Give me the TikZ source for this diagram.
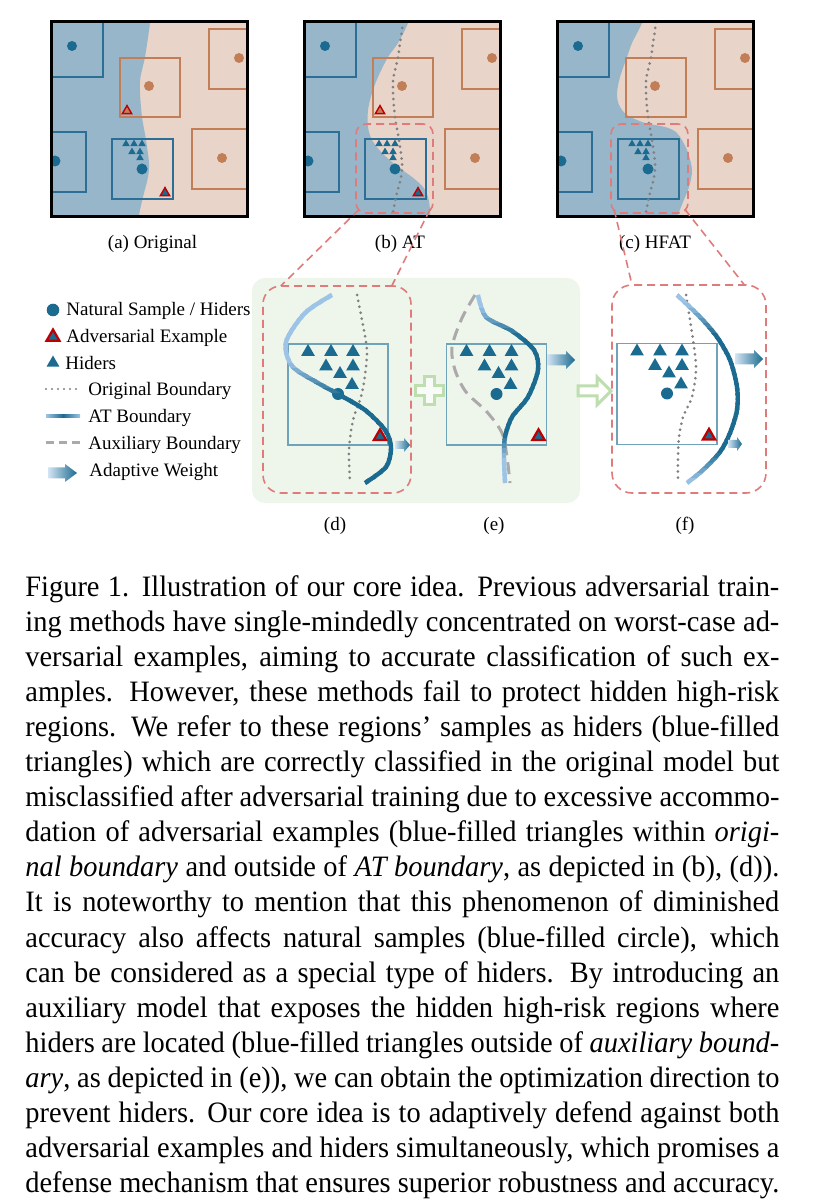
\documentclass[tikz,border=0pt]{standalone}
\usepackage{graphicx}
\usepackage{fontspec}
\setmainfont{Liberation Serif}
\usetikzlibrary{shapes.geometric,calc,positioning}
\definecolor{blueregion}{HTML}{98B6CA}
\definecolor{pinkregion}{HTML}{E8D4C8}
\definecolor{navy}{HTML}{1B6A90}
\definecolor{boxblue}{HTML}{2B6F96}
\definecolor{rust}{HTML}{C27F57}
\definecolor{advred}{HTML}{C00000}
\definecolor{zoomred}{HTML}{E07B7B}
\definecolor{skyline}{HTML}{9DC4E6}
\definecolor{cellline}{HTML}{6FA3BA}
\definecolor{stage}{HTML}{EEF5EA}
\definecolor{mint}{HTML}{BEDEAF}
\definecolor{origgray}{HTML}{808080}
\definecolor{auxgray}{HTML}{AAAAAA}
\tikzset{frame/.style={draw=black,line width=1.5pt},bluebox/.style={draw=boxblue,line width=1pt},rustbox/.style={draw=rust,line width=1pt},
hider/.style={regular polygon,regular polygon sides=3,fill=navy,inner sep=0pt,outer sep=0pt,minimum size=#1},hider/.default=8pt,
advtri/.style={regular polygon,regular polygon sides=3,fill=navy,draw=advred,line width=1.1pt,inner sep=0pt,minimum size=7.2pt},
origline/.style={draw=origgray,line width=1.5pt,line cap=round,dash pattern=on 0pt off 3pt},
auxline/.style={draw=auxgray,line width=1.5pt,dash pattern=on 6pt off 3.5pt},
atcurve/.style={line width=2.2pt},
zoombox/.style={draw=zoomred,line width=0.8pt,dash pattern=on 4pt off 2.5pt,inner sep=0pt,outer sep=0pt},
zoomline/.style={draw=zoomred,line width=0.8pt,dash pattern=on 4pt off 2.5pt},
cellbox/.style={draw=cellline,line width=0.6pt,inner sep=0pt,outer sep=0pt,minimum width=50pt,minimum height=50.5pt},
stagebox/.style={fill=stage,rounded corners=6.5pt,inner sep=0pt,minimum width=164pt,minimum height=112.5pt},
legtext/.style={anchor=base west,inner sep=0pt,font=\fontsize{9.5}{11}\selectfont},
sublabel/.style={anchor=base,inner sep=0pt,font=\fontsize{9.5}{11}\selectfont},
capt/.style={anchor=base west,inner sep=0pt,font=\fontsize{14.8}{17.6}\selectfont}}
% boxes and samples shared by the three maps
\newcommand\panelboxes[1]{%
  \draw[bluebox] (-10,-10) rectangle (52,55);
  \fill[navy] (21,24) circle (5);
  \draw[rustbox] (69,36) rectangle (129,95);
  \fill[rust] (98,64) circle (5);
  \draw[rustbox] (158,7) rectangle (210,67);
  \fill[rust] (188,36) circle (5);
  \draw[bluebox] (-10,110) rectangle (35,170);
  \fill[navy] (4,139) circle (5.5);
  \draw[bluebox] (61,117) rectangle (122,177);
  \foreach \p [count=\i] in {(75,122),(83,122),(91,122),(81,130),(89,130),(89,136)}
    \node[hider=4.4pt] (#1h\i) at \p {};
  \fill[navy] (91,147) circle (5.5);
  \draw[rustbox] (141,107) rectangle (210,167);
  \fill[rust] (171,136) circle (5);}
% samples inside one zoomed cell
\newcommand\cellmarks[1]{%
  \foreach \p [count=\i] in {(20,8),(43,8),(65,8),(38,22.5),(65,22.5),(52,30),(64,41)}
    \node[hider] (#1h\i) at \p {};
  \fill[navy] (50,50) circle (6);
  \node[advtri] (#1adv) at (92,92.5) {};}
% boundary with a colour running along it
\newcommand\gradline[4]{%
  \foreach \k in {0,...,39}{%
    \pgfmathsetmacro\yy{289+\k*5}%
    \pgfmathtruncatemacro\pc{max(0,min(100,#4))}%
    \begin{scope}
      \clip (#2,\yy) rectangle (#3,\yy+5.5);
      \draw[atcurve,draw=navy!\pc!skyline] plot[smooth] coordinates {#1};
    \end{scope}}}
\newcommand\wtarrow[6]{\shade[left color=skyline!45!white,right color=navy] (#1,#2-#5) -- (#1+#3,#2-#5) -- (#1+#3,#2-#6) -- (#1+#4,#2) -- (#1+#3,#2+#6) -- (#1+#3,#2+#5) -- (#1,#2+#5) -- cycle;}
\newcommand\capline[2]{\node[capt] (cap#1) at (25,{596+35.1*(#1-1)}) {\scalebox{0.96}[1]{\makebox[392.7pt][s]{#2}}};}
\begin{document}
\begin{tikzpicture}[x=0.5pt,y=-0.5pt]
\useasboundingbox (0,0) rectangle (815,1202);
% (a) original
\begin{scope}[shift={(51,22)}]
 \begin{scope}
  \clip (0,0) rectangle (196,195);
  \fill[pinkregion] (0,0) rectangle (196,195);
  \fill[blueregion] (-10,-10) -- plot[smooth] coordinates {(99,-8) (99,1) (94,35) (89.5,55) (89,71) (91,95) (95,118) (98,141) (97,155) (92,175) (88,193) (87,203)} -- (-10,205) -- cycle;
  \panelboxes{a}
  \node[advtri,fill=rust,minimum size=5.4pt,line width=0.7pt] (aadv1) at (76,89) {};
  \node[advtri,minimum size=5.4pt,line width=0.7pt] (aadv2) at (114,171) {};
 \end{scope}
 \draw[frame] (0,0) rectangle (196,195);
\end{scope}
% (b) AT
\begin{scope}[shift={(304,22)}]
 \begin{scope}
  \clip (0,0) rectangle (196,195);
  \fill[pinkregion] (0,0) rectangle (196,195);
  \fill[blueregion] (-10,-10) -- plot[smooth] coordinates {(104,-8) (104,1) (94,21) (84,35) (74,55) (68,71) (64,88) (64,105) (68,118) (78,131) (94,145) (108,155) (119,165) (124,175) (126,188) (126,203)} -- (-10,205) -- cycle;
  \panelboxes{b}
  \node[advtri,fill=rust,minimum size=5.4pt,line width=0.7pt] (badv1) at (76,89) {};
  \node[advtri,minimum size=5.4pt,line width=0.7pt] (badv2) at (114,171) {};
  \draw[origline] plot[smooth] coordinates {(99,0) (94,35) (89.5,55) (89,71) (91,95) (95,118) (98,141) (97,155) (92,175) (88,195)};
 \end{scope}
 \draw[frame] (0,0) rectangle (196,195);
\end{scope}
% (c) HFAT
\begin{scope}[shift={(557,22)}]
 \begin{scope}
  \clip (0,0) rectangle (196,195);
  \fill[pinkregion] (0,0) rectangle (196,195);
  \fill[blueregion] (-10,-10) -- plot[smooth] coordinates {(85,-8) (85,1) (75,21) (70,35) (63,55) (60,71) (62,83) (70,93) (88,101) (108,105) (120,111) (130,128) (135,148) (132,165) (126,180) (121,193) (119,203)} -- (-10,205) -- cycle;
  \panelboxes{c}
  \draw[origline] plot[smooth] coordinates {(99,0) (94,35) (89.5,55) (89,71) (91,95) (95,118) (98,141) (97,155) (92,175) (88,195)};
 \end{scope}
 \draw[frame] (0,0) rectangle (196,195);
\end{scope}
\node[zoombox,rounded corners=5pt,minimum width=38.5pt,minimum height=44.5pt] (zoomb) at (394.5,168.5) {};
\node[zoombox,rounded corners=5pt,minimum width=38.5pt,minimum height=44.5pt] (zoomc) at (649.5,168.5) {};
\node[sublabel] (la) at (152.5,249) {(a) Original};
\node[sublabel] (lb) at (400,249) {(b) AT};
\node[sublabel] (lc) at (655,249) {(c) HFAT};
% legend
\fill[navy] (53,310) circle (6.3);
\node[advtri,minimum size=7.5pt] (legadv) at (53,337) {};
\node[hider=7.5pt] (leghider) at (53,363) {};
\draw[origline,line width=1.2pt] (46,389) -- (80,389);
\shade[left color=skyline,right color=skyline,middle color=navy] (46,414.3) rectangle (80,417.7);
\draw[auxline,dash pattern=on 4pt off 2.5pt] (46,443) -- (80,443);
\wtarrow{48}{473}{17}{29}{5.5}{9}
\node[legtext] (lt1) at (66,316) {Natural Sample / Hiders};
\node[legtext] (lt2) at (66,343) {Adversarial Example};
\node[legtext] (lt3) at (65,370) {Hiders};
\node[legtext] (lt4) at (88,396) {Original Boundary};
\node[legtext] (lt5) at (88,423) {AT Boundary};
\node[legtext] (lt6) at (88,450) {Auxiliary Boundary};
\node[legtext] (lt7) at (89,476) {Adaptive Weight};
% (d) and (e) on the green stage
\node[stagebox] (stage) at (416,390.5) {};
\node[zoombox,rounded corners=9pt,minimum width=74pt,minimum height=103.5pt] (boxd) at (337,389.5) {};
\node[cellbox] (celld) at (338,394.5) {};
\begin{scope}[shift={(celld.north west)}]\cellmarks{d}\end{scope}
\draw[origline] plot[smooth] coordinates {(357,295) (362,320) (367,353) (362,393) (353,420) (349,450) (350,483)};
\gradline{(332,295) (305,313) (286,342) (292,366) (318,383) (338,394) (365,410) (385,430) (391,447) (386,467) (365,483)}{255}{420}{(\yy-360)/35*100}
\wtarrow{395}{445}{9}{15}{4}{7}
\filldraw[draw=mint,fill=stage!40!white,line width=1.5pt] (424,377) -- (434,377) -- (434,386) -- (443,386) -- (443,396) -- (434,396) -- (434,405) -- (424,405) -- (424,396) -- (415,396) -- (415,386) -- (424,386) -- cycle;
\node[cellbox] (celle) at (496.5,394.5) {};
\begin{scope}[shift={(celle.north west)}]\cellmarks{e}\end{scope}
\draw[auxline] plot[smooth] coordinates {(475,295) (462,318) (452,347) (455,370) (466,392) (487,412) (502,433) (507,457) (510,483)};
\gradline{(478,295) (486,317) (512,331) (534,350) (538,370) (528,397) (512,417) (505,437) (504,457) (505,483)}{440}{560}{min((\yy-305)/30*100,(458-\yy)/25*100)}
\wtarrow{547}{360}{19}{28}{5.5}{9}
\filldraw[draw=mint,fill=white,line width=1.5pt] (578,386) -- (597,386) -- (597,377) -- (611,391) -- (597,405) -- (597,396) -- (578,396) -- cycle;
% (f)
\node[zoombox,rounded corners=10pt,minimum width=77pt,minimum height=104pt] (boxf) at (689,389) {};
\node[cellbox] (cellf) at (667,394) {};
\begin{scope}[shift={(cellf.north west)}]\cellmarks{f}\end{scope}
\draw[origline] plot[smooth] coordinates {(686,295) (690,320) (694,347) (696,370) (692,397) (683,417) (679,437) (678,457) (678,483)};
\gradline{(677,295) (700,317) (717,337) (730,360) (737,387) (737,410) (730,433) (720,452) (703,470) (687,483)}{650}{760}{min((\yy-302)/32*100,(480-\yy)/30*100)}
\wtarrow{735}{359}{19}{28}{5.5}{9}
\wtarrow{728}{444}{9}{14}{4}{7}
% zoom connectors
\draw[zoomline] ($(zoomb.south west)!0.04!(zoomb.north east)$) -- ($(boxd.north west)!0.12!(boxd.north east)$);
\draw[zoomline] ($(zoomb.south east)!0.04!(zoomb.north west)$) -- ($(boxd.north west)!0.87!(boxd.north east)$);
\draw[zoomline] ($(zoomc.south west)!0.04!(zoomc.north east)$) -- ($(boxf.north west)!0.13!(boxf.north east)$);
\draw[zoomline] ($(zoomc.south east)!0.04!(zoomc.north west)$) -- ($(boxf.north west)!0.86!(boxf.north east)$);
\node[sublabel] (ld) at (335,530) {(d)};
\node[sublabel] (le) at (494,530) {(e)};
\node[sublabel] (lf) at (685,530) {(f)};
% caption
\capline{1}{Figure 1. Illustration of our core idea. Previous adversarial train-}
\capline{2}{ing methods have single-mindedly concentrated on worst-case ad-}
\capline{3}{versarial examples, aiming to accurate classification of such ex-}
\capline{4}{amples. However, these methods fail to protect hidden high-risk}
\capline{5}{regions. We refer to these regions' samples as hiders (blue-filled}
\capline{6}{triangles) which are correctly classified in the original model but}
\capline{7}{misclassified after adversarial training due to excessive accommo-}
\capline{8}{dation of adversarial examples (blue-filled triangles within \textit{origi-}}
\capline{9}{\textit{nal boundary} and outside of \textit{AT boundary}, as depicted in (b), (d)).}
\capline{10}{It is noteworthy to mention that this phenomenon of diminished}
\capline{11}{accuracy also affects natural samples (blue-filled circle), which}
\capline{12}{can be considered as a special type of hiders. By introducing an}
\capline{13}{auxiliary model that exposes the hidden high-risk regions where}
\capline{14}{hiders are located (blue-filled triangles outside of \textit{auxiliary bound-}}
\capline{15}{\textit{ary}, as depicted in (e)), we can obtain the optimization direction to}
\capline{16}{prevent hiders. Our core idea is to adaptively defend against both}
\capline{17}{adversarial examples and hiders simultaneously, which promises a}
\capline{18}{defense mechanism that ensures superior robustness and accuracy.}
\end{tikzpicture}
\end{document}
